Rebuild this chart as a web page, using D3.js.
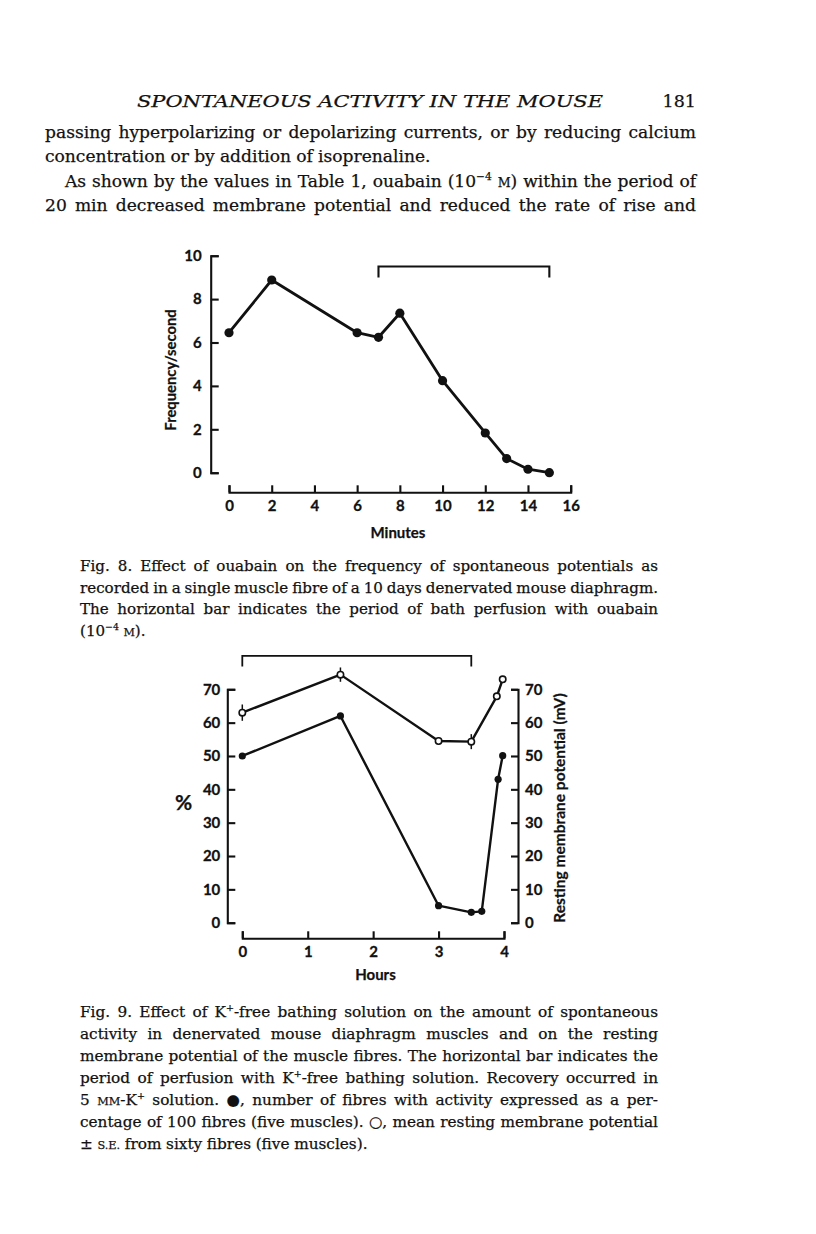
<!DOCTYPE html>
<html><head><meta charset="utf-8">
<script src="https://cdn.jsdelivr.net/npm/d3@7"></script>
<style>body{margin:0;background:#fff}</style>
</head><body>
<svg id="c" width="816" height="1234"></svg>
<script>
// ---------- DATA ----------
// Fig. 8
const fig8Minutes   = [0, 2, 6, 7, 8, 10, 12, 13, 14, 15];
const fig8Frequency = [6.45, 8.88, 6.45, 6.24, 7.35, 4.24, 1.83, 0.65, 0.16, 0.0];
const fig8XTicks = [0, 2, 4, 6, 8, 10, 12, 14, 16];
const fig8YTicks = [0, 2, 4, 6, 8, 10];
const fig8Bar = [7, 15];          // ouabain perfusion period (min)
const fig8BarLevel = 9.5;         // frequency units
// Fig. 9
const fig9ActivityHours = [0, 1.5, 3, 3.5, 3.66, 3.91, 3.98];
const fig9ActivityPct   = [50, 62, 5.1, 3.1, 3.4, 43, 50.1];
const fig9PotentialHours = [0, 1.5, 3, 3.5, 3.89, 3.98];
const fig9PotentialMv    = [63, 74.4, 54.5, 54.3, 67.9, 73.0];
const fig9PotentialSE    = [1.7, 1.4, 0.4, 1.5, 0, 0];
const fig9XTicks = [0, 1, 2, 3, 4];
const fig9YTicks = [0, 10, 20, 30, 40, 50, 60, 70];
const fig9Bar = [0, 3.5];         // K+-free perfusion period (h)
const fig9BarLevel = 80;

// ---------- TEXT ----------
const headerTitle = "SPONTANEOUS ACTIVITY IN THE MOUSE";
const pageNumber = "181";
const bodyLines = [
  "passing hyperpolarizing or depolarizing currents, or by reducing calcium",
  "concentration or by addition of isoprenaline.",
  "As shown by the values in Table 1, ouabain (10{sup:−4} {sc:M}) within the period of",
  "20 min decreased membrane potential and reduced the rate of rise and"
];
const caption8 = [
  "Fig. 8. Effect of ouabain on the frequency of spontaneous potentials as",
  "recorded in a single muscle fibre of a 10 days denervated mouse diaphragm.",
  "The horizontal bar indicates the period of bath perfusion with ouabain",
  "(10{sup:−4} {sc:M})."
];
const caption9 = [
  "Fig. 9. Effect of K{sup:+}-free bathing solution on the amount of spontaneous",
  "activity in denervated mouse diaphragm muscles and on the resting",
  "membrane potential of the muscle fibres. The horizontal bar indicates the",
  "period of perfusion with K{sup:+}-free bathing solution. Recovery occurred in",
  "5 {sc:MM}-K{sup:+} solution. ●, number of fibres with activity expressed as a per-",
  "centage of 100 fibres (five muscles). ○, mean resting membrane potential",
  "± {sc:S.E.} from sixty fibres (five muscles)."
];

// ---------- RENDER ----------
const svg = d3.select('#c');
svg.append('rect').attr('width', 816).attr('height', 1234).attr('fill', '#fff');
const INK = '#111';
const SERIF = "'DejaVu Serif', serif";
const SANS = "Lato, 'Open Sans', sans-serif";

function parseWord(w) {
  const segs = [];
  const re = /\{(sc|sup):([^}]*)\}/g;
  let last = 0, m;
  while ((m = re.exec(w)) !== null) {
    if (m.index > last) segs.push({t: w.slice(last, m.index), s: 'n'});
    segs.push({t: m[2], s: m[1]});
    last = re.lastIndex;
  }
  if (last < w.length) segs.push({t: w.slice(last), s: 'n'});
  return segs;
}

function drawTextLine(g, line, x0, width, baseline, fs, justify, opts = {}) {
  const words = line.split(' ');
  const els = words.map(w => {
    const t = g.append('text').attr('y', baseline).attr('font-family', SERIF)
      .attr('font-size', fs).attr('fill', INK)
      .attr('stroke', INK).attr('stroke-width', 0.25)
      .attr('font-style', opts.italic ? 'italic' : 'normal');
    let shift = 0;
    parseWord(w).forEach(sg => {
      const ts = t.append('tspan');
      if (sg.s === 'sup') {
        ts.attr('font-size', fs * 0.62).attr('dy', -fs * 0.38 - shift); shift = -fs * 0.38;
      } else {
        if (shift !== 0) { ts.attr('dy', -shift); shift = 0; }
        if (sg.s === 'sc') ts.attr('font-size', fs * 0.74);
      }
      ts.text(sg.t);
    });
    return t;
  });
  const widths = els.map(e => e.node().getComputedTextLength());
  const total = d3.sum(widths);
  let gap = fs * 0.3;
  if (justify && words.length > 1) gap = (width - total) / (words.length - 1);
  let x = x0;
  els.forEach((e, i) => { e.attr('x', x); x += widths[i] + gap; });
}

// Header
svg.append('text').attr('x', 370).attr('y', 107).attr('text-anchor', 'middle')
  .attr('font-family', SERIF).attr('font-style', 'italic').attr('font-size', 17.5)
  .attr('fill', INK).attr('stroke', INK).attr('stroke-width', 0.25)
  .attr('textLength', 466).attr('lengthAdjust', 'spacingAndGlyphs')
  .text(headerTitle);
svg.append('text').attr('x', 696).attr('y', 107).attr('text-anchor', 'end')
  .attr('font-family', SERIF).attr('font-size', 17.5).attr('fill', INK)
  .attr('stroke', INK).attr('stroke-width', 0.25).text(pageNumber);

const body = svg.append('g');
const bodyX = [45, 45, 65, 45];
const bodyJ = [true, false, true, true];
bodyLines.forEach((l, i) => drawTextLine(body, l, bodyX[i], 696 - bodyX[i], 137.5 + i * 24.5, 17.1, bodyJ[i]));

const cap8 = svg.append('g');
caption8.forEach((l, i) => drawTextLine(cap8, l, 80, 578, 571 + i * 21.5, 15.1, i < caption8.length - 1));
const cap9 = svg.append('g');
caption9.forEach((l, i) => drawTextLine(cap9, l, 80, 578, 1017 + i * 22, 15.3, i < caption9.length - 1));

function styleAxis(a, fs) {
  a.selectAll('path, line').attr('stroke', INK).attr('stroke-width', 2.1);
  a.select('.domain').attr('fill', 'none');
  a.selectAll('text').attr('font-family', SANS).attr('font-weight', 700)
    .attr('font-size', fs).attr('fill', INK).attr('stroke', INK).attr('stroke-width', 0.3);
}
function label(g, txt, fs) {
  return g.append('text').attr('text-anchor', 'middle').attr('font-family', SANS)
    .attr('font-weight', 700).attr('font-size', fs).attr('fill', INK)
    .attr('stroke', INK).attr('stroke-width', 0.25).text(txt);
}

// ---------- Fig. 8 ----------
const x8 = d3.scaleLinear().domain([0, 16]).range([229, 570.7]);
const y8 = d3.scaleLinear().domain([0, 10]).range([472.7, 255.7]);
const g8 = svg.append('g');
const ay8 = g8.append('g').attr('transform', 'translate(210.7,0)')
  .call(d3.axisLeft(y8).tickValues(fig8YTicks).tickSize(-8).tickSizeOuter(-8).tickPadding(9).tickFormat(d3.format('d')));
styleAxis(ay8, 15);
const ax8 = g8.append('g').attr('transform', 'translate(0,492.3)')
  .call(d3.axisBottom(x8).tickValues(fig8XTicks).tickSize(-7).tickSizeOuter(-7).tickPadding(8).tickFormat(d3.format('d')));
styleAxis(ax8, 15);

const pts8 = fig8Minutes.map((m, i) => ({x: m, y: fig8Frequency[i]}));
g8.append('path').datum(pts8).attr('fill', 'none').attr('stroke', INK).attr('stroke-width', 2.8)
  .attr('stroke-linejoin', 'round')
  .attr('d', d3.line().x(d => x8(d.x)).y(d => y8(d.y)));
g8.selectAll('circle.p').data(pts8).join('circle').attr('class', 'p')
  .attr('cx', d => x8(d.x)).attr('cy', d => y8(d.y)).attr('r', 4.6).attr('fill', INK);

const b8y = y8(fig8BarLevel);
g8.append('path').attr('fill', 'none').attr('stroke', INK).attr('stroke-width', 2.1)
  .attr('d', `M${x8(fig8Bar[0])},${b8y + 11}V${b8y}H${x8(fig8Bar[1])}V${b8y + 11}`);

label(g8, 'Frequency/second', 14.8).attr('transform', 'translate(175.5,370) rotate(-90)');
label(g8, 'Minutes', 15).attr('x', 398).attr('y', 538);

// ---------- Fig. 9 ----------
const x9 = d3.scaleLinear().domain([0, 4]).range([242.3, 504]);
const y9 = d3.scaleLinear().domain([0, 70]).range([922.7, 689.3]);
const g9 = svg.append('g');
const ayl = g9.append('g').attr('transform', 'translate(227.3,0)')
  .call(d3.axisLeft(y9).tickValues(fig9YTicks).tickSize(-8).tickSizeOuter(-8).tickPadding(7).tickFormat(d3.format('d')));
styleAxis(ayl, 15);
const ayr = g9.append('g').attr('transform', 'translate(518,0)')
  .call(d3.axisRight(y9).tickValues(fig9YTicks).tickSize(-7).tickSizeOuter(-7).tickPadding(7).tickFormat(d3.format('d')));
styleAxis(ayr, 15);
const ax9 = g9.append('g').attr('transform', 'translate(0,938.3)')
  .call(d3.axisBottom(x9).tickValues(fig9XTicks).tickSize(-7).tickSizeOuter(-7).tickPadding(8).tickFormat(d3.format('d')));
styleAxis(ax9, 15);

const line9 = d3.line().x(d => x9(d.x)).y(d => y9(d.y));
const act = fig9ActivityHours.map((h, i) => ({x: h, y: fig9ActivityPct[i]}));
const pot = fig9PotentialHours.map((h, i) => ({x: h, y: fig9PotentialMv[i], se: fig9PotentialSE[i]}));
g9.append('path').datum(act).attr('fill', 'none').attr('stroke', INK).attr('stroke-width', 2.4)
  .attr('stroke-linejoin', 'round').attr('d', line9);
g9.append('path').datum(pot).attr('fill', 'none').attr('stroke', INK).attr('stroke-width', 2.4)
  .attr('stroke-linejoin', 'round').attr('d', line9);
g9.selectAll('line.se').data(pot.filter(d => d.se > 0)).join('line').attr('class', 'se')
  .attr('x1', d => x9(d.x)).attr('x2', d => x9(d.x))
  .attr('y1', d => y9(d.y + d.se) - 2.5).attr('y2', d => y9(d.y - d.se) + 2.5)
  .attr('stroke', INK).attr('stroke-width', 1.5);
g9.selectAll('circle.a').data(act).join('circle').attr('class', 'a')
  .attr('cx', d => x9(d.x)).attr('cy', d => y9(d.y)).attr('r', 3.6).attr('fill', INK);
g9.selectAll('circle.o').data(pot).join('circle').attr('class', 'o')
  .attr('cx', d => x9(d.x)).attr('cy', d => y9(d.y)).attr('r', 3.2)
  .attr('fill', '#fff').attr('stroke', INK).attr('stroke-width', 1.6);

const b9y = y9(fig9BarLevel);
g9.append('path').attr('fill', 'none').attr('stroke', INK).attr('stroke-width', 1.8)
  .attr('d', `M${x9(fig9Bar[0])},${b9y + 10.5}V${b9y}H${x9(fig9Bar[1])}V${b9y + 10.5}`);

label(g9, '%', 21).attr('x', 183.5).attr('y', 810);
label(g9, 'Resting membrane potential (mV)', 15.5).attr('transform', 'translate(564.5,808) rotate(-90)');
label(g9, 'Hours', 15).attr('x', 375.5).attr('y', 980);
</script>
</body></html>
